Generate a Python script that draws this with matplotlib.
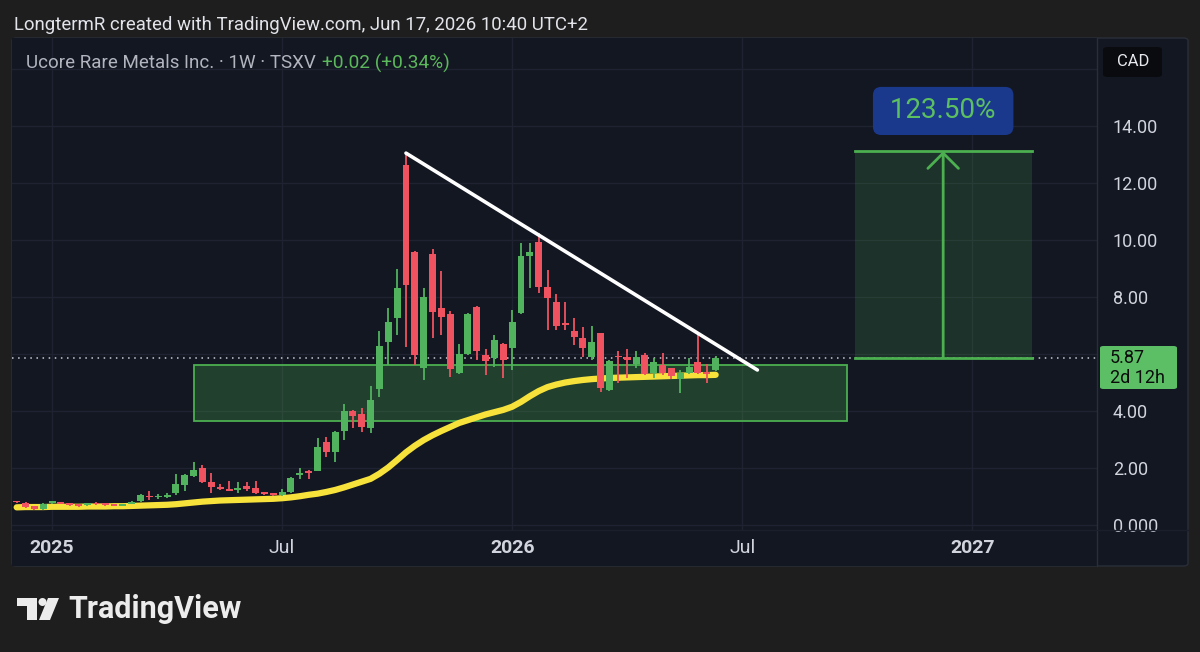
import numpy as np
import pandas as pd
import matplotlib
matplotlib.use("Agg")
import matplotlib.pyplot as plt
import matplotlib.dates as mdates
from matplotlib.patches import Rectangle, FancyBboxPatch, Polygon, Ellipse
from matplotlib.lines import Line2D

plt.rcParams['font.family'] = ['Roboto', 'DejaVu Sans']

# weekly candles, first bar on this monday
first_week = "2024-12-09"
opens = [0.82, 0.77, 0.66, 0.56, 0.78, 0.80, 0.77, 0.70, 0.70, 0.77,
         0.74, 0.70, 0.68, 0.75, 0.84, 1.00, 0.97, 1.00, 1.12, 1.40,
         1.72, 2.00, 1.51, 1.33, 1.26, 1.24, 1.37, 1.30, 1.12, 1.10,
         1.05, 1.16, 1.76, 1.89, 1.90, 2.91, 2.56, 3.30, 4.00, 3.89,
         3.40, 4.77, 6.42, 7.26, 12.63, 9.58, 5.50, 9.50, 7.60, 7.40,
         5.33, 6.00, 7.65, 5.96, 5.86, 6.35, 6.20, 7.44, 9.44, 9.93,
         8.35, 7.82, 7.09, 6.80, 6.56, 5.90, 6.74, 4.74, 5.92, 5.90,
         5.65, 5.96, 5.33, 5.61, 5.50, 5.12, 5.33, 5.72, 5.37, 5.44]
closes = [0.80, 0.63, 0.56, 0.73, 0.81, 0.74, 0.70, 0.66, 0.74, 0.73,
          0.70, 0.67, 0.72, 0.80, 1.05, 0.97, 1.00, 1.04, 1.44, 1.75,
          1.93, 1.51, 1.33, 1.26, 1.20, 1.27, 1.26, 1.12, 1.09, 1.05,
          1.15, 1.65, 1.80, 1.82, 2.74, 2.56, 3.26, 4.00, 3.82, 3.44,
          4.39, 6.28, 7.12, 8.30, 8.42, 5.96, 8.00, 7.47, 7.30, 5.47,
          6.00, 7.40, 6.10, 5.75, 6.50, 5.79, 7.12, 9.44, 9.58, 8.35,
          7.96, 6.98, 7.02, 6.60, 6.20, 6.42, 4.80, 5.75, 5.88, 5.79,
          5.90, 5.30, 5.72, 5.33, 5.23, 5.33, 5.54, 5.33, 5.30, 5.87]
highs = [0.86, 0.80, 0.68, 0.76, 0.86, 0.82, 0.79, 0.72, 0.77, 0.80,
         0.76, 0.72, 0.75, 0.84, 1.10, 1.20, 1.08, 1.12, 1.79, 1.80,
         2.21, 2.10, 1.82, 1.45, 1.54, 1.50, 1.50, 1.54, 1.16, 1.12,
         1.28, 1.68, 2.00, 1.92, 3.05, 3.09, 3.30, 4.25, 4.05, 4.10,
         4.88, 6.80, 7.60, 8.98, 13.10, 9.60, 8.30, 9.70, 8.90, 7.50,
         6.35, 7.45, 7.70, 6.17, 6.67, 6.40, 7.54, 9.90, 9.90, 10.25,
         8.95, 8.10, 7.82, 7.26, 6.95, 7.00, 6.74, 5.80, 6.10, 6.17,
         6.10, 6.03, 5.86, 6.03, 5.50, 5.44, 5.86, 6.77, 5.65, 5.93]
lows = [0.77, 0.60, 0.54, 0.54, 0.74, 0.72, 0.68, 0.64, 0.68, 0.71,
        0.68, 0.65, 0.66, 0.73, 0.82, 0.88, 0.92, 0.95, 1.05, 1.20,
        1.70, 1.48, 1.12, 1.24, 1.18, 1.12, 1.20, 1.10, 1.05, 1.02,
        1.02, 1.12, 1.60, 1.60, 1.88, 2.40, 2.20, 3.00, 3.40, 3.25,
        3.23, 4.50, 5.60, 6.67, 6.25, 5.60, 5.10, 6.55, 6.67, 5.20,
        5.30, 5.96, 5.80, 5.26, 5.54, 5.16, 5.44, 7.40, 8.30, 8.14,
        6.84, 6.84, 6.84, 6.30, 5.90, 5.79, 4.67, 4.72, 4.98, 5.16,
        5.50, 5.26, 5.16, 5.26, 5.12, 4.63, 5.30, 5.30, 5.00, 5.40]
# moving average (yellow)
ma = [0.62, 0.63, 0.63, 0.63, 0.64, 0.64, 0.64, 0.64, 0.65, 0.65,
      0.65, 0.66, 0.66, 0.67, 0.68, 0.69, 0.70, 0.71, 0.73, 0.76,
      0.79, 0.82, 0.84, 0.86, 0.87, 0.88, 0.89, 0.90, 0.91, 0.92,
      0.94, 0.97, 1.01, 1.06, 1.10, 1.16, 1.23, 1.32, 1.42, 1.52,
      1.62, 1.80, 2.02, 2.28, 2.55, 2.78, 2.98, 3.15, 3.30, 3.44,
      3.58, 3.68, 3.78, 3.88, 3.96, 4.04, 4.15, 4.32, 4.52, 4.70,
      4.84, 4.93, 5.00, 5.05, 5.09, 5.12, 5.14, 5.16, 5.17, 5.18,
      5.19, 5.20, 5.21, 5.22, 5.23, 5.24, 5.25, 5.26, 5.26, 5.27]

last_price = 5.87
zone_low, zone_high = 3.65, 5.61
zone_end = "2026-09-27"
trend_end, trend_end_price = "2026-07-18", 5.44
trend_start_price = 13.05
target_start, target_end, arrow_day = "2026-10-03", "2027-02-20", "2026-12-12"
target_price = 13.12
target_text = " 123.50% "
tick_days = ["2025-01-06", "2025-07-07", "2026-01-05", "2026-07-06", "2027-01-04"]
tick_names = ["2025", "Jul", "2026", "Jul", "2027"]
price_ticks = [0, 2, 4, 6, 8, 10, 12, 14, 16]
price_names = ["0.000", "2.00", "4.00", "", "8.00", "10.00", "12.00", "14.00", ""]

bg = "#1e1e1e"
panel_c = "#131722"
grid_c = "#1f2331"
line_c = "#2a2e39"
text_c = "#d1d4dc"
up_c = "#52b35f"
down_c = "#f0525f"
green = "#4caf50"

W, H = 1200, 652
def fx(px):
    return px / W
def fy(py):
    return 1 - py / H

weeks = pd.date_range(first_week, periods=len(opens), freq="7D")
xw = mdates.date2num(weeks)
o = np.array(opens); c = np.array(closes)
hi = np.array(highs); lo = np.array(lows)
d = lambda s: mdates.date2num(pd.Timestamp(s))

fig = plt.figure(figsize=(12, 6.52), dpi=100)
fig.patch.set_facecolor(bg)

panel = FancyBboxPatch((fx(12), fy(566)), fx(1188) - fx(12), fy(38) - fy(566),
                       boxstyle="round,pad=0,rounding_size=0.004", transform=fig.transFigure,
                       fc=panel_c, ec=line_c, lw=1, zorder=-5)
fig.add_artist(panel)

ax = fig.add_axes([fx(12), fy(530), fx(1097) - fx(12), fy(38) - fy(530)])
ax.set_facecolor(panel_c)
for s in ax.spines.values():
    s.set_visible(False)
x0 = xw[0] - 3.7
x1 = xw[0] + 854.7
ax.set_xlim(x0, x1)
ax.set_ylim(-0.175, 17.09)

ax.set_xticks([d(t) for t in tick_days])
ax.tick_params(axis="x", length=0, labelbottom=False)
ax.yaxis.tick_right()
ax.set_yticks(price_ticks)
ax.set_yticklabels(price_names)
ax.tick_params(axis="y", length=0, pad=11.5, labelsize=13, labelcolor=text_c)
ax.grid(True, color=grid_c, lw=1, zorder=0)
ax.set_axisbelow(True)

# support zone
ax.add_patch(Rectangle((xw[20], zone_low), d(zone_end) - xw[20], zone_high - zone_low,
                       fc=green, alpha=0.27, ec="none", zorder=1))
ax.add_patch(Rectangle((xw[20], zone_low), d(zone_end) - xw[20], zone_high - zone_low,
                       fc="none", ec=green, lw=1.3, zorder=1.1))

# target box
ax.add_patch(Rectangle((d(target_start), last_price), d(target_end) - d(target_start),
                       target_price - last_price, fc=green, alpha=0.18, ec="none", zorder=1))
ax.plot([d(target_start), d(target_end)], [last_price, last_price], color=green, lw=2, zorder=2)
ax.plot([d(target_start), d(target_end)], [target_price, target_price], color=green, lw=2, zorder=2)
ax.annotate("", xy=(d(arrow_day), target_price), xytext=(d(arrow_day), last_price),
            arrowprops=dict(arrowstyle="->,head_length=1.1,head_width=1.1", color=green, lw=2,
                            mutation_scale=10, shrinkA=0, shrinkB=0), zorder=2)
ax.text(d(arrow_day), 14.53, target_text, ha="center", va="center", fontsize=20, color="#5cc060",
        bbox=dict(boxstyle="round,pad=0.38,rounding_size=0.3", fc="#1b398c", ec="none"), zorder=3)

# last price dotted line
ax.axhline(last_price, color="#c8ccd6", lw=1.1, ls=(0, (1, 3)), zorder=1.5)

# moving average
ax.plot(xw, ma, color="#f6e23b", lw=4.5, solid_capstyle="round", zorder=2)

# candles
cols = np.where(c >= o, up_c, down_c)
ax.vlines(xw, lo, hi, colors=cols, lw=1.3, zorder=3)
body_lo = np.minimum(o, c)
body_h = np.maximum(np.abs(c - o), 0.06)
ax.bar(xw, body_h, bottom=body_lo, width=5.5, color=cols, lw=0, zorder=3.5)

# trend line
ax.plot([xw[44], d(trend_end)], [trend_start_price, trend_end_price], color="white", lw=2.6,
        solid_capstyle="round", zorder=4)

# time axis strip
tax = fig.add_axes([fx(12), fy(566), fx(1097) - fx(12), fy(530) - fy(566)])
tax.set_facecolor(panel_c)
for s in tax.spines.values():
    s.set_visible(False)
tax.set_xlim(x0, x1)
tax.set_ylim(0, 1)
tax.set_xticks([]); tax.set_yticks([])
for t, n in zip(tick_days, tick_names):
    tax.text(d(t), 0.5, n, ha="center", va="center", fontsize=14, color=text_c,
             weight="bold" if n.isdigit() else "normal")

fig.add_artist(Line2D([fx(1097), fx(1097)], [fy(566), fy(38)], transform=fig.transFigure,
                      color=line_c, lw=1, zorder=5))
fig.add_artist(Line2D([fx(12), fx(1188)], [fy(530), fy(530)], transform=fig.transFigure,
                      color="#1b1f2b", lw=1, zorder=5))

# last price label
fig.add_artist(FancyBboxPatch((fx(1100), fy(389)), fx(1177) - fx(1100), fy(346) - fy(389),
                              boxstyle="round,pad=0,rounding_size=0.003", transform=fig.transFigure,
                              fc="#5cbf66", ec="none", zorder=5))
fig.text(fx(1110), fy(358), "5.87", fontsize=13, color="#0c0c0c", va="center", zorder=6)
fig.text(fx(1110), fy(378), "2d 12h", fontsize=13, color="#0c0c0c", va="center", zorder=6)

# currency box
fig.add_artist(FancyBboxPatch((fx(1103), fy(77)), fx(1162) - fx(1103), fy(47) - fy(77),
                              boxstyle="round,pad=0,rounding_size=0.004", transform=fig.transFigure,
                              fc="#0a0b0f", ec="none", zorder=5))
fig.text(fx(1133), fy(62), "CAD", fontsize=12, color="#e6e8ee", ha="center", va="center", zorder=6)

# headers
fig.text(fx(14), fy(25), "LongtermR created with TradingView.com, Jun 17, 2026 10:40 UTC+2",
         fontsize=13.4, color="#e2e4ea", va="center")
fig.text(fx(26), fy(63), "Ucore Rare Metals Inc. · 1W · TSXV", fontsize=13.5, color="#b2b5be", va="center")
fig.text(fx(322), fy(63), "+0.02 (+0.34%)", fontsize=13.8, color="#5cb85c", va="center")

# TradingView logo
logo_c = "#ececec"
fig.add_artist(Polygon([(fx(17), fy(598)), (fx(37), fy(598)), (fx(37), fy(620)), (fx(27), fy(620)),
                        (fx(27), fy(606)), (fx(17), fy(606))], closed=True, transform=fig.transFigure,
                       fc=logo_c, ec="none"))
fig.add_artist(Ellipse((fx(42.5), fy(602)), 8 / W, 8 / H, transform=fig.transFigure, fc=logo_c, ec="none"))
fig.add_artist(Polygon([(fx(48), fy(598)), (fx(59), fy(598)), (fx(50), fy(620)), (fx(39), fy(620))],
                       closed=True, transform=fig.transFigure, fc=logo_c, ec="none"))
fig.text(fx(68), fy(609), "TradingView", fontsize=22, weight="bold", color=logo_c, va="center")

fig.savefig("out.png", dpi=100, facecolor=bg)
